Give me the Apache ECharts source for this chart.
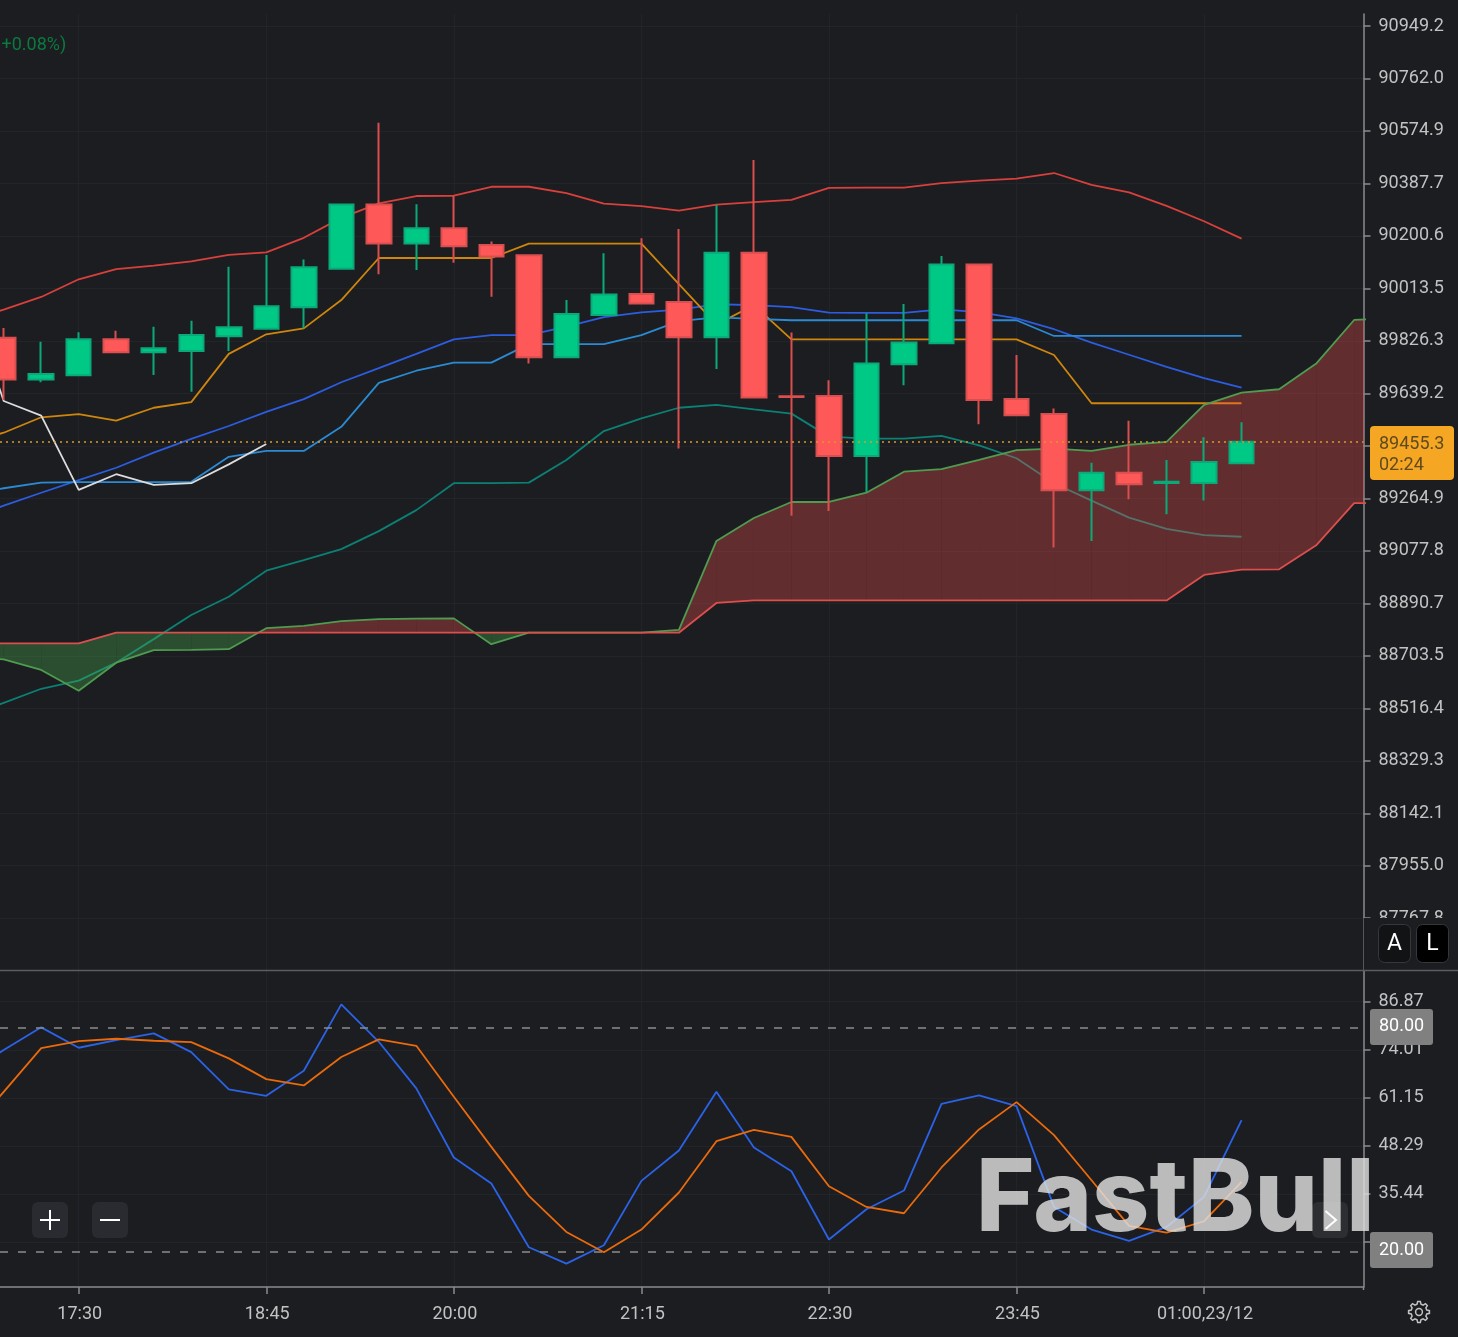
<!DOCTYPE html>
<html>
<head>
<meta charset="utf-8">
<title>FastBull chart</title>
<style>
  html, body { margin: 0; padding: 0; background: #1c1d21; }
  #chart { width: 1458px; height: 1337px; }
</style>
<script src="https://cdn.jsdelivr.net/npm/echarts@6/dist/echarts.min.js"></script>
</head>
<body>
<div id="chart"></div>
<script>
// 15 minute candles, slot 0 sits just inside the left edge of the picture
var opens  = [89838,89689,89704,89832,89786,89790,89843,89870,89946,90084,90313,90174,90228,90168,90132,89768,89919,89994,89965,89839,90141,89629,89630,89416,89743,89818,90099,89619,89566,89294,89356,89320,89320,89390];
var closes = [89689,89708,89832,89786,89800,89847,89875,89950,90089,90313,90174,90228,90164,90127,89768,89922,89992,89960,89839,90141,89625,89626,89416,89746,89821,90099,89616,89561,89294,89356,89315,89324,89395,89467];
var lows   = [89616,89679,89704,89786,89705,89645,89790,89870,89871,90084,90064,90079,90105,89984,89746,89768,89919,89960,89443,89726,89625,89203,89220,89287,89668,89818,89529,89561,89090,89113,89262,89208,89257,89390];
var highs  = [89872,89823,89857,89863,89877,89898,90091,90133,90117,90313,90604,90314,90343,90181,90132,89972,90139,90192,90225,90311,90471,89856,89686,89925,89958,90129,90099,89776,89585,89392,89542,89402,89483,89536];

// indicator arrays start one slot earlier (slot -1, off the left edge)
var bollUpper = [89897,89938,89983,90046,90082,90095,90110,90133,90142,90194,90265,90317,90343,90344,90376,90376,90353,90316,90307,90291,90312,90321,90329,90372,90373,90373,90389,90398,90405,90425,90383,90356,90308,90253,90191];
var bollMid   = [89192,89239,89285,89330,89374,89428,89477,89523,89573,89619,89679,89729,89780,89832,89847,89847,89877,89911,89928,89938,89957,89954,89947,89927,89926,89926,89939,89929,89907,89868,89820,89777,89734,89694,89660];
var bollLower = [88485,88536,88586,88615,88679,88763,88849,88914,89007,89045,89084,89148,89223,89319,89319,89321,89402,89505,89550,89588,89598,89582,89567,89485,89478,89478,89488,89454,89408,89319,89257,89196,89156,89134,89128];
var tenkan = [89463,89499,89554,89565,89542,89588,89608,89780,89850,89871,89972,90122,90122,90122,90122,90173,90173,90173,90173,90029,89885,89954,89832,89832,89832,89832,89832,89832,89832,89776,89604,89604,89604,89604,89604];
var kijun  = [89277,89301,89321,89323,89323,89323,89324,89413,89434,89434,89520,89677,89720,89749,89749,89815,89815,89815,89847,89897,89910,89905,89900,89900,89900,89900,89900,89900,89900,89844,89844,89844,89844,89844,89844];
var chikou = [90011,89612,89560,89295,89351,89313,89319,89386,89459];
// cloud runs on past the last candle
var spanA = [88696,88691,88653,88579,88679,88724,88725,88727,88802,88810,88827,88834,88836,88837,88745,88786,88786,88786,88786,88796,89113,89195,89252,89252,89285,89360,89369,89402,89437,89442,89434,89456,89466,89598,89642,89654,89747,89901,89908];
var spanB = [88748,88748,88748,88748,88786,88786,88786,88786,88786,88786,88786,88786,88786,88786,88786,88786,88786,88786,88786,88786,88892,88901,88901,88901,88901,88901,88901,88901,88901,88901,88901,88901,88901,88992,89011,89012,89099,89248,89248];

var stochK = [67.77,73.93,80.01,74.55,76.61,78.40,73.39,63.40,61.69,68.38,86.17,76.15,63.67,45.18,38.22,21.15,16.79,21.69,38.92,47.06,62.76,47.87,41.51,23.22,31.33,36.34,59.54,61.79,58.93,31.95,25.90,22.84,26.59,34.63,55.18];
var stochD = [50.89,62.76,74.47,76.34,76.96,76.42,76.07,71.71,66.16,64.47,72.06,76.80,75.08,61.42,48.02,34.90,25.25,19.81,25.90,35.81,49.55,52.58,50.70,37.50,31.95,30.26,42.51,52.69,60.00,51.16,39.10,26.86,25.09,28.12,38.65];

var priceTicks = [90949.2,90762.0,90574.9,90387.7,90200.6,90013.5,89826.3,89639.2,89452.0,89264.9,89077.8,88890.7,88703.5,88516.4,88329.3,88142.1,87955.0,87767.8];
var oscTicks = [86.87,74.01,61.15,48.29,35.44,22.58];
var oscLabels = [86.87,74.01,61.15,48.29,35.44];
var timeSlots = [2,7,12,17,22,27,32];
var timeLabels = ["17:30","18:45","20:00","21:15","22:30","23:45","01:00,23/12"];
var oscLevels = [80,20];
var lastPrice = 89467;

var BG = "#1c1d21", GRID = "#232429", AXIS = "#8a8b8e", TEXT = "#c2c2c2";
var FONT = "Roboto";

function pairs(arr) {
  return arr.map(function (v, i) { return [i - 1, v]; });
}

function lineSeries(name, arr, color, z) {
  return {
    name: name, type: "line", data: pairs(arr),
    showSymbol: false, silent: true, z: z, animation: false,
    lineStyle: { color: color, width: 1.8 }
  };
}

// one polygon per slot, split where the two spans cross
function renderCloud(params, api) {
  var i = params.dataIndex;
  if (i >= spanA.length - 1) return null;
  var a0 = spanA[i], a1 = spanA[i + 1], b0 = spanB[i], b1 = spanB[i + 1];
  var slot = i - 1;
  function fill(d) { return d >= 0 ? "rgba(255,82,82,0.31)" : "rgba(76,175,80,0.33)"; }
  function poly(x0, x1, pa0, pa1, pb0, pb1, color) {
    return {
      type: "polygon",
      shape: { points: [api.coord([x0, pa0]), api.coord([x1, pa1]), api.coord([x1, pb1]), api.coord([x0, pb0])] },
      style: { fill: color }
    };
  }
  var d0 = a0 - b0, d1 = a1 - b1;
  if (d0 * d1 >= 0) {
    return poly(slot, slot + 1, a0, a1, b0, b1, fill(d0 + d1));
  }
  var t = d0 / (d0 - d1), cx = slot + t, cy = a0 + (a1 - a0) * t;
  return {
    type: "group",
    children: [
      poly(slot, cx, a0, cy, b0, cy, fill(d0)),
      poly(cx, slot + 1, cy, a1, cy, b1, fill(d1))
    ]
  };
}

function labelText(x, y, text, color, size, align) {
  return {
    type: "text", x: x, y: y, z: 120, silent: true,
    style: { text: text, fill: color, font: size + "px " + FONT, align: align || "left", verticalAlign: "middle" }
  };
}

function box(x, y, w, h, fill, r, stroke) {
  return {
    type: "rect", z: 110, silent: true,
    shape: { x: x, y: y, width: w, height: h, r: r || 0 },
    style: { fill: fill, stroke: stroke || null, lineWidth: stroke ? 1 : 0 }
  };
}

function rule(x1, y1, x2, y2, color, width) {
  return {
    type: "line", z: 115, silent: true,
    shape: { x1: x1, y1: y1, x2: x2, y2: y2 },
    style: { stroke: color, lineWidth: width }
  };
}

function gearPoints(cx, cy, rOut, rIn, teeth) {
  var pts = [];
  for (var i = 0; i < teeth; i++) {
    var a = i / teeth * Math.PI * 2, step = Math.PI * 2 / teeth;
    [[-0.32, rIn], [-0.16, rOut], [0.16, rOut], [0.32, rIn]].forEach(function (p) {
      var ang = a + p[0] * step;
      pts.push([cx + Math.cos(ang) * p[1], cy + Math.sin(ang) * p[1]]);
    });
  }
  return pts;
}

var chart = echarts.init(document.getElementById("chart"), null, { renderer: "canvas" });

var xMin = -0.0986, xMax = 36.25;
var sharedSplit = { show: true, lineStyle: { color: GRID, width: 1 } };

chart.setOption({
  backgroundColor: BG,
  animation: false,
  grid: [
    { left: 0, top: 14, width: 1363.5, height: 956 },
    { left: 0, top: 971, width: 1363.5, height: 316 }
  ],
  xAxis: [
    {
      gridIndex: 0, type: "value", min: xMin, max: xMax,
      axisLine: { show: false },
      axisTick: { show: false, customValues: timeSlots },
      axisLabel: { show: false },
      splitLine: sharedSplit
    },
    {
      gridIndex: 1, type: "value", min: xMin, max: xMax,
      axisLine: { show: true, onZero: false, lineStyle: { color: AXIS, width: 1.5 } },
      axisTick: { show: true, length: 7, customValues: timeSlots, lineStyle: { color: AXIS, width: 1.5 } },
      axisLabel: {
        show: true, customValues: timeSlots, margin: 18, padding: [0, 0, 0, 2], color: TEXT, fontFamily: FONT, fontSize: 18,
        formatter: function (v) { return timeLabels[timeSlots.indexOf(v)] || ""; }
      },
      splitLine: sharedSplit
    }
  ],
  yAxis: [
    {
      gridIndex: 0, type: "value", position: "right", min: 87583.2, max: 90992,
      axisLine: { show: true, onZero: false, lineStyle: { color: AXIS, width: 1.5 } },
      axisTick: { show: true, length: 7, customValues: priceTicks, lineStyle: { color: AXIS, width: 1.5 } },
      axisLabel: {
        customValues: priceTicks, margin: 15, padding: [3, 0, 0, 0], color: TEXT, fontFamily: FONT, fontSize: 18,
        formatter: function (v) { return v.toFixed(1); }
      },
      splitLine: sharedSplit
    },
    {
      gridIndex: 1, type: "value", position: "right", min: 10.52, max: 95.09,
      axisLine: { show: true, onZero: false, lineStyle: { color: AXIS, width: 1.5 } },
      axisTick: { show: true, length: 7, customValues: oscTicks, lineStyle: { color: AXIS, width: 1.5 } },
      axisLabel: {
        customValues: oscLabels, margin: 15, padding: [3, 0, 0, 0], color: TEXT, fontFamily: FONT, fontSize: 18,
        formatter: function (v) { return v.toFixed(2); }
      },
      splitLine: sharedSplit
    }
  ],
  series: [
    lineSeries("boll upper", bollUpper, "#d8403c", 2),
    lineSeries("boll mid", bollMid, "#2c5de0", 2),
    lineSeries("boll lower", bollLower, "#0b8074", 2),
    lineSeries("tenkan", tenkan, "#cf860c", 2),
    lineSeries("kijun", kijun, "#2a8bd4", 2),
    lineSeries("chikou", chikou, "#dcdcdc", 2),
    {
      name: "cloud", type: "custom", z: 3, silent: true, clip: true, animation: false,
      data: spanA.map(function (v, i) { return [i - 1, v, spanB[i]]; }),
      encode: { x: 0, y: [1, 2] },
      renderItem: renderCloud
    },
    lineSeries("span A", spanA, "#4f9c50", 4),
    lineSeries("span B", spanB, "#dc4f4d", 4),
    {
      name: "price", type: "candlestick", z: 5, barWidth: 25, silent: true, animation: false,
      data: opens.map(function (o, i) { return [i, o, closes[i], lows[i], highs[i]]; }),
      encode: { x: 0, y: [1, 2, 3, 4] },
      itemStyle: {
        color: "#00c986", color0: "#ff5858",
        borderColor: "#0aa97a", borderColor0: "#d94f4f",
        borderWidth: 2
      },
      markLine: {
        silent: true, symbol: "none", animation: false, z: 6,
        label: { show: false },
        lineStyle: { color: "#d9992a", type: [2, 4], width: 1.5 },
        data: [{ yAxis: lastPrice }]
      }
    },
    {
      name: "%K", type: "line", xAxisIndex: 1, yAxisIndex: 1, data: pairs(stochK),
      showSymbol: false, silent: true, z: 3, animation: false,
      lineStyle: { color: "#2a63e8", width: 1.8 },
      markLine: {
        silent: true, symbol: "none", animation: false,
        label: { show: false },
        lineStyle: { color: "#8c8c8c", type: [8, 10], width: 1.5 },
        data: oscLevels.map(function (v) { return { yAxis: v }; })
      }
    },
    {
      name: "%D", type: "line", xAxisIndex: 1, yAxisIndex: 1, data: pairs(stochD),
      showSymbol: false, silent: true, z: 3, animation: false,
      lineStyle: { color: "#ea6a0c", width: 1.8 }
    }
  ],
  graphic: { elements: [
    // price axis is cut off under the main pane
    box(1362.6, 918, 96, 52, BG),
    rule(1363.5, 918, 1363.5, 970, "#55565a", 1),
    rule(0, 970.5, 1458, 970.5, "#5c5d61", 1.5),
    rule(1363.5, 1287, 1363.5, 1290, AXIS, 1.5),

    labelText(1.5, 45.5, "+0.08%)", "#0b7a3f", 18),

    box(1370, 426, 84, 54, "#f5a623", 4),
    labelText(1379, 444.5, "89455.3", "#5f4a1f", 18),
    labelText(1379, 465.5, "02:24", "#5f4a1f", 18),

    box(1370, 1009, 63, 36, "#808080", 3),
    labelText(1379, 1026.5, "80.00", "#ffffff", 18),
    box(1370, 1232, 63, 36, "#808080", 3),
    labelText(1379, 1250.5, "20.00", "#ffffff", 18),

    box(1378.5, 924.5, 32, 38, "#121315", 6, "#36373b"),
    labelText(1394.5, 944, "A", "#ffffff", 23, "center"),
    box(1416.5, 924.5, 32, 38, "#000000", 6, "#36373b"),
    labelText(1432.5, 944, "L", "#ffffff", 23, "center"),

    box(32, 1202, 36, 36, "#2a2b30", 6),
    rule(40, 1220, 60, 1220, "#ffffff", 2),
    rule(50, 1210, 50, 1230, "#ffffff", 2),
    box(92, 1202, 36, 36, "#2a2b30", 6),
    rule(100, 1220, 120, 1220, "#ffffff", 2),

    {
      type: "text", x: 976, y: 1200.5, z: 118, silent: true,
      style: { text: "FastBull", fill: "rgba(222,222,222,0.82)", font: "800 100px Inter", verticalAlign: "middle" }
    },

    box(1312, 1202, 36, 36, "rgba(60,61,66,0.55)", 6),
    { type: "polyline", z: 120, silent: true, shape: { points: [[1325.5, 1211], [1336, 1220], [1325.5, 1229]] },
      style: { stroke: "#ffffff", lineWidth: 2, fill: null } },

    { type: "polygon", z: 120, silent: true, shape: { points: gearPoints(1419, 1312, 10.5, 8, 8) },
      style: { fill: null, stroke: TEXT, lineWidth: 1.5 } },
    { type: "circle", z: 120, silent: true, shape: { cx: 1419, cy: 1312, r: 3.4 },
      style: { fill: null, stroke: TEXT, lineWidth: 1.5 } }
  ] }
});
</script>
</body>
</html>
